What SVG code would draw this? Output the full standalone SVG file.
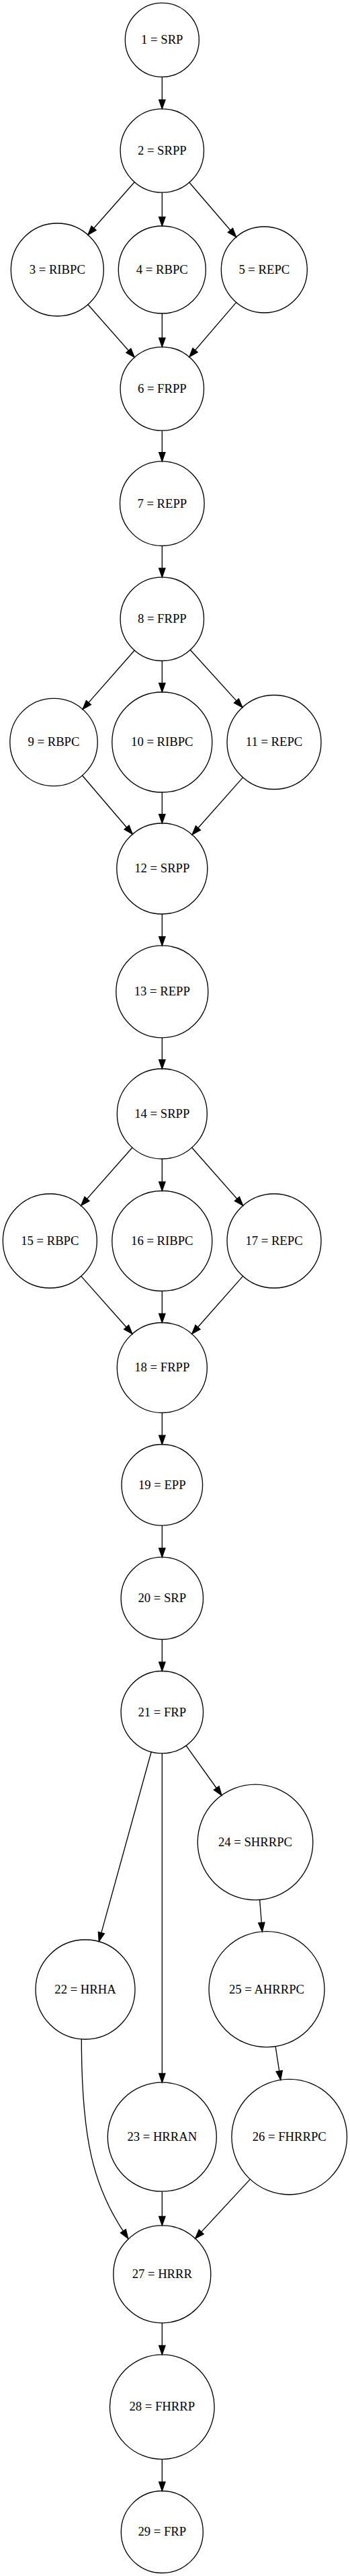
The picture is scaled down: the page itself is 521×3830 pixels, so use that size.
<svg xmlns="http://www.w3.org/2000/svg" width="521" height="3830" viewBox="0 0 521 3830">
<style>
.n ellipse{fill:none;stroke:#000;stroke-width:1.33}
.n text{font-family:"Liberation Serif","Times New Roman",serif;font-size:18.67px;text-anchor:middle;fill:#000}
#edges path{fill:none;stroke:#000;stroke-width:1.33;marker-end:url(#arr)}
</style>
<defs>
<marker id="arr" markerUnits="userSpaceOnUse" viewBox="-2 -7 18 14" markerWidth="18" markerHeight="14" refX="0" refY="0" orient="auto" overflow="visible">
<path d="M0,-4.67 L13.33,0 L0,4.67 Z" fill="#000" stroke="#000" stroke-width="1.33"/>
</marker>
</defs>
<rect width="521" height="3830" fill="#fff"/>
<g id="edges">
<path d="M241.3,114.3 L241.3,148.5"/>
<path d="M200.2,270.7 L139.7,339.2"/>
<path d="M241.3,286.2 L241.3,322.7"/>
<path d="M281.8,271.2 L342.9,342.3"/>
<path d="M130.9,452.8 L191.4,521.3"/>
<path d="M241.3,466 L241.3,502.5"/>
<path d="M351.6,449.6 L290.5,520.7"/>
<path d="M241.3,640.2 L241.3,672.6"/>
<path d="M241.3,811.5 L241.3,844.8"/>
<path d="M200.2,967 L131.9,1044.6"/>
<path d="M241.3,982.5 L241.3,1015.7"/>
<path d="M283.2,966.3 L351.9,1041.9"/>
<path d="M122.5,1153 L188.6,1230.2"/>
<path d="M241.3,1178 L241.3,1210.7"/>
<path d="M361.6,1155.9 L294.9,1231"/>
<path d="M241.3,1359 L241.3,1392.6"/>
<path d="M241.3,1542.9 L241.3,1575.7"/>
<path d="M196.9,1706.2 L129.5,1782.5"/>
<path d="M241.3,1723 L241.3,1757.2"/>
<path d="M285.6,1706.3 L352.9,1782.5"/>
<path d="M120.7,1897.4 L188.1,1973.3"/>
<path d="M241.3,1919.5 L241.3,1953.2"/>
<path d="M361.6,1897.4 L294.5,1973.3"/>
<path d="M241.3,2100.5 L241.3,2134.2"/>
<path d="M241.3,2268.1 L241.3,2301.8"/>
<path d="M241.3,2437.5 L241.3,2471.2"/>
<path d="M225.3,2604.3 C214,2645 185,2750 150.85,2873.65"/>
<path d="M241.3,2606.9 L241.3,3082.9"/>
<path d="M277,2595.4 L322.2,2658.5"/>
<path d="M386.6,2824.5 L389.3,2858.7"/>
<path d="M410.1,3042.7 L415.7,3079.2"/>
<path d="M121.3,3031.8 C121.3,3181 139.4,3250.4 183.4,3317.2"/>
<path d="M241.3,3258.2 L241.3,3295.5"/>
<path d="M372.3,3240.1 L299.7,3318.4"/>
<path d="M241.3,3453.8 L241.3,3487.5"/>
<path d="M241.3,3656.4 L241.3,3690.2"/>
</g>
<g id="node1" class="n"><ellipse cx="241.3" cy="59.3" rx="55" ry="55"/><text x="241.3" y="65.1">1 = SRP</text></g>
<g id="node2" class="n"><ellipse cx="241.3" cy="224" rx="62.2" ry="62.2"/><text x="241.3" y="229.8">2 = SRPP</text></g>
<g id="node3" class="n"><ellipse cx="85.3" cy="401" rx="69" ry="69"/><text x="85.3" y="406.8">3 = RIBPC</text></g>
<g id="node4" class="n"><ellipse cx="241.3" cy="401" rx="65" ry="65"/><text x="241.3" y="406.8">4 = RBPC</text></g>
<g id="node5" class="n"><ellipse cx="393.3" cy="401" rx="64" ry="64"/><text x="393.3" y="406.8">5 = REPC</text></g>
<g id="node6" class="n"><ellipse cx="241.3" cy="578" rx="62.2" ry="62.2"/><text x="241.3" y="583.8">6 = FRPP</text></g>
<g id="node7" class="n"><ellipse cx="241.3" cy="748.7" rx="62.8" ry="62.8"/><text x="241.3" y="754.5">7 = REPP</text></g>
<g id="node8" class="n"><ellipse cx="241.3" cy="920.3" rx="62.2" ry="62.2"/><text x="241.3" y="926.1">8 = FRPP</text></g>
<g id="node9" class="n"><ellipse cx="80" cy="1103.5" rx="65.2" ry="65.2"/><text x="80" y="1109.3">9 = RBPC</text></g>
<g id="node10" class="n"><ellipse cx="241.3" cy="1103.5" rx="74.5" ry="74.5"/><text x="241.3" y="1109.3">10 = RIBPC</text></g>
<g id="node11" class="n"><ellipse cx="408" cy="1103.5" rx="70" ry="70"/><text x="408" y="1109.3">11 = REPC</text></g>
<g id="node12" class="n"><ellipse cx="241.3" cy="1291.5" rx="67.5" ry="67.5"/><text x="241.3" y="1297.3">12 = SRPP</text></g>
<g id="node13" class="n"><ellipse cx="241.3" cy="1474.4" rx="68.5" ry="68.5"/><text x="241.3" y="1480.2">13 = REPP</text></g>
<g id="node14" class="n"><ellipse cx="241.3" cy="1656" rx="67" ry="67"/><text x="241.3" y="1661.8">14 = SRPP</text></g>
<g id="node15" class="n"><ellipse cx="74.3" cy="1845" rx="70" ry="70"/><text x="74.3" y="1850.8">15 = RBPC</text></g>
<g id="node16" class="n"><ellipse cx="241.3" cy="1845" rx="74.5" ry="74.5"/><text x="241.3" y="1850.8">16 = RIBPC</text></g>
<g id="node17" class="n"><ellipse cx="408" cy="1845" rx="70" ry="70"/><text x="408" y="1850.8">17 = REPC</text></g>
<g id="node18" class="n"><ellipse cx="241.3" cy="2033.5" rx="67" ry="67"/><text x="241.3" y="2039.3">18 = FRPP</text></g>
<g id="node19" class="n"><ellipse cx="241.3" cy="2207.8" rx="60.3" ry="60.3"/><text x="241.3" y="2213.6">19 = EPP</text></g>
<g id="node20" class="n"><ellipse cx="241.3" cy="2376.3" rx="61.2" ry="61.2"/><text x="241.3" y="2382.1">20 = SRP</text></g>
<g id="node21" class="n"><ellipse cx="241.3" cy="2545.7" rx="61.2" ry="61.2"/><text x="241.3" y="2551.5">21 = FRP</text></g>
<g id="node22" class="n"><ellipse cx="127" cy="2958" rx="74" ry="74"/><text x="127" y="2963.8">22 = HRHA</text></g>
<g id="node23" class="n"><ellipse cx="241.3" cy="3177.2" rx="81" ry="81"/><text x="241.3" y="3183">23 = HRRAN</text></g>
<g id="node24" class="n"><ellipse cx="380" cy="2739" rx="85.8" ry="85.8"/><text x="380" y="2744.8">24 = SHRRPC</text></g>
<g id="node25" class="n"><ellipse cx="397" cy="2957.7" rx="86" ry="86"/><text x="397" y="2963.5">25 = AHRRPC</text></g>
<g id="node26" class="n"><ellipse cx="430.7" cy="3177.2" rx="85.8" ry="85.8"/><text x="430.7" y="3183">26 = FHRRPC</text></g>
<g id="node27" class="n"><ellipse cx="241.3" cy="3381.3" rx="72.5" ry="72.5"/><text x="241.3" y="3387.1">27 = HRRR</text></g>
<g id="node28" class="n"><ellipse cx="241.3" cy="3578.6" rx="77.8" ry="77.8"/><text x="241.3" y="3584.4">28 = FHRRP</text></g>
<g id="node29" class="n"><ellipse cx="241.3" cy="3764.5" rx="61" ry="61"/><text x="241.3" y="3770.3">29 = FRP</text></g>
</svg>
